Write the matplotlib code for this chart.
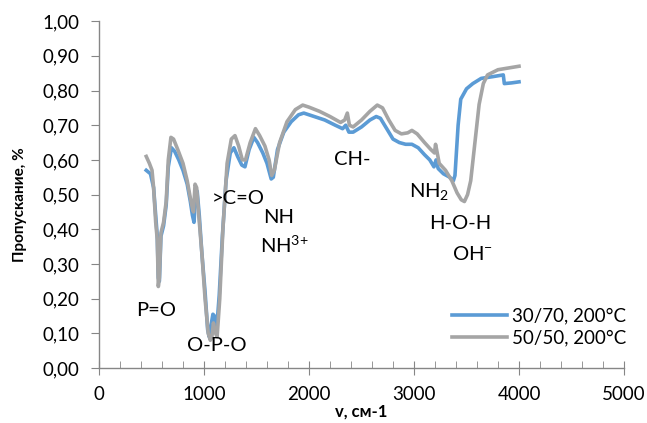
import matplotlib.pyplot as plt
from matplotlib.ticker import MultipleLocator, FuncFormatter

plt.rcParams['font.family'] = ['Lato', 'DejaVu Sans']
plt.rcParams['mathtext.fontset'] = 'custom'
plt.rcParams['mathtext.rm'] = 'Lato'

# IR spectra, transmission vs wavenumber
wn_30_70 = [450, 490, 520, 540, 555, 565, 575, 590, 615, 640, 660, 690, 720, 760, 800,
            840, 870, 890, 905, 920, 935, 955, 980, 1010, 1035, 1050, 1065, 1085, 1100,
            1120, 1145, 1175, 1210, 1250, 1285, 1320, 1360, 1390, 1430, 1475, 1510, 1560,
            1600, 1640, 1660, 1700, 1760, 1830, 1900, 1950, 2050, 2150, 2250, 2320, 2350,
            2380, 2420, 2500, 2580, 2640, 2680, 2740, 2800, 2860, 2920, 2980, 3040, 3100,
            3150, 3190, 3210, 3230, 3280, 3340, 3375, 3390, 3420, 3445, 3500, 3560, 3640,
            3750, 3850, 3860, 3930, 4000]
tr_30_70 = [0.570, 0.560, 0.520, 0.440, 0.380, 0.260, 0.250, 0.380, 0.410, 0.470, 0.580,
            0.635, 0.625, 0.600, 0.570, 0.530, 0.480, 0.440, 0.420, 0.500, 0.510, 0.440,
            0.330, 0.220, 0.110, 0.090, 0.120, 0.155, 0.150, 0.110, 0.210, 0.380, 0.540,
            0.620, 0.635, 0.610, 0.585, 0.580, 0.630, 0.665, 0.650, 0.620, 0.590, 0.545,
            0.550, 0.630, 0.680, 0.710, 0.730, 0.735, 0.725, 0.715, 0.700, 0.690, 0.700,
            0.680, 0.680, 0.695, 0.715, 0.725, 0.720, 0.690, 0.660, 0.650, 0.645, 0.645,
            0.635, 0.615, 0.600, 0.580, 0.600, 0.575, 0.560, 0.550, 0.540, 0.555, 0.700,
            0.775, 0.805, 0.820, 0.835, 0.840, 0.845, 0.820, 0.822, 0.825]

wn_50_50 = [450, 480, 505, 520, 540, 555, 565, 575, 590, 615, 640, 660, 685, 710, 750,
            800, 840, 870, 890, 900, 915, 930, 950, 980, 1010, 1040, 1060, 1075, 1090,
            1110, 1125, 1150, 1180, 1220, 1260, 1295, 1330, 1365, 1395, 1440, 1490, 1530,
            1580, 1620, 1645, 1670, 1720, 1790, 1870, 1940, 2000, 2100, 2200, 2300, 2340,
            2365, 2385, 2420, 2500, 2580, 2650, 2700, 2760, 2820, 2880, 2940, 2980, 3030,
            3100, 3160, 3195, 3205, 3215, 3240, 3300, 3360, 3410, 3450, 3480, 3510, 3540,
            3580, 3620, 3660, 3700, 3800, 3900, 4000]
tr_50_50 = [0.610, 0.590, 0.570, 0.520, 0.420, 0.370, 0.235, 0.260, 0.390, 0.420, 0.480,
            0.600, 0.665, 0.660, 0.630, 0.590, 0.540, 0.490, 0.460, 0.450, 0.530, 0.520,
            0.440, 0.330, 0.200, 0.100, 0.080, 0.090, 0.130, 0.100, 0.090, 0.200, 0.400,
            0.590, 0.660, 0.670, 0.640, 0.600, 0.600, 0.650, 0.690, 0.670, 0.640, 0.600,
            0.555, 0.570, 0.650, 0.710, 0.745, 0.758, 0.752, 0.740, 0.725, 0.708, 0.715,
            0.735, 0.700, 0.695, 0.715, 0.740, 0.758, 0.750, 0.715, 0.685, 0.675, 0.678,
            0.685, 0.675, 0.650, 0.630, 0.620, 0.645, 0.630, 0.590, 0.570, 0.540, 0.505,
            0.485, 0.480, 0.500, 0.540, 0.650, 0.760, 0.820, 0.845, 0.860, 0.865, 0.870]

# band assignments: label, wavenumber, transmission
band_labels = ['P=O', 'O-P-O', '>C=O', 'NH', r'NH$^\mathregular{3{+}}$', 'CH-',
               r'NH$_\mathregular{2}$', 'H-O-H', r'OH$^\mathregular{{-}}$']
band_x = [540, 1120, 1330, 1710, 1760, 2410, 3140, 3440, 3560]
band_y = [0.167, 0.066, 0.490, 0.434, 0.356, 0.600, 0.505, 0.417, 0.328]

fig = plt.figure(figsize=(6.47, 4.23), dpi=100)
ax = fig.add_axes([0.153, 0.130, 0.8115, 0.820])

ax.plot(wn_30_70, tr_30_70, color='#5B9BD5', linewidth=2.6, label='30/70, 200°C')
ax.plot(wn_50_50, tr_50_50, color='#A5A5A5', linewidth=2.6, label='50/50, 200°C')

for lbl, bx, by in zip(band_labels, band_x, band_y):
    ax.text(bx, by, lbl, ha='center', va='center', fontsize=14.5, color='black')

ax.set_xlim(0, 5000)
ax.set_ylim(0, 1.0)
ax.xaxis.set_major_locator(MultipleLocator(1000))
ax.xaxis.set_minor_locator(MultipleLocator(200))
ax.yaxis.set_major_locator(MultipleLocator(0.1))
ax.yaxis.set_major_formatter(FuncFormatter(lambda v, p: f'{v:.2f}'.replace('.', ',')))

for side in ['top', 'right']:
    ax.spines[side].set_visible(False)
for side in ['left', 'bottom']:
    ax.spines[side].set_color('#868686')
    ax.spines[side].set_linewidth(1.0)

ax.tick_params(axis='x', which='major', direction='inout', length=10, color='#868686',
               labelsize=13.5, pad=8)
ax.tick_params(axis='x', which='minor', direction='in', length=5, color='#868686')
ax.tick_params(axis='y', which='major', direction='out', length=6, color='#868686',
               labelsize=13.5, pad=8)

ax.set_xlabel('v, см-1', fontsize=12, fontweight='bold', labelpad=0)
ax.set_ylabel('Пропускание, %', fontsize=11, fontweight='bold')
ax.yaxis.set_label_coords(-0.137, 0.47)

ax.legend(loc='lower right', bbox_to_anchor=(1.03, 0.025), frameon=False, fontsize=13.5,
          handlelength=2.9, handletextpad=0.3, labelspacing=0.25, borderaxespad=0.3)

fig.savefig('out.png', dpi=100)
